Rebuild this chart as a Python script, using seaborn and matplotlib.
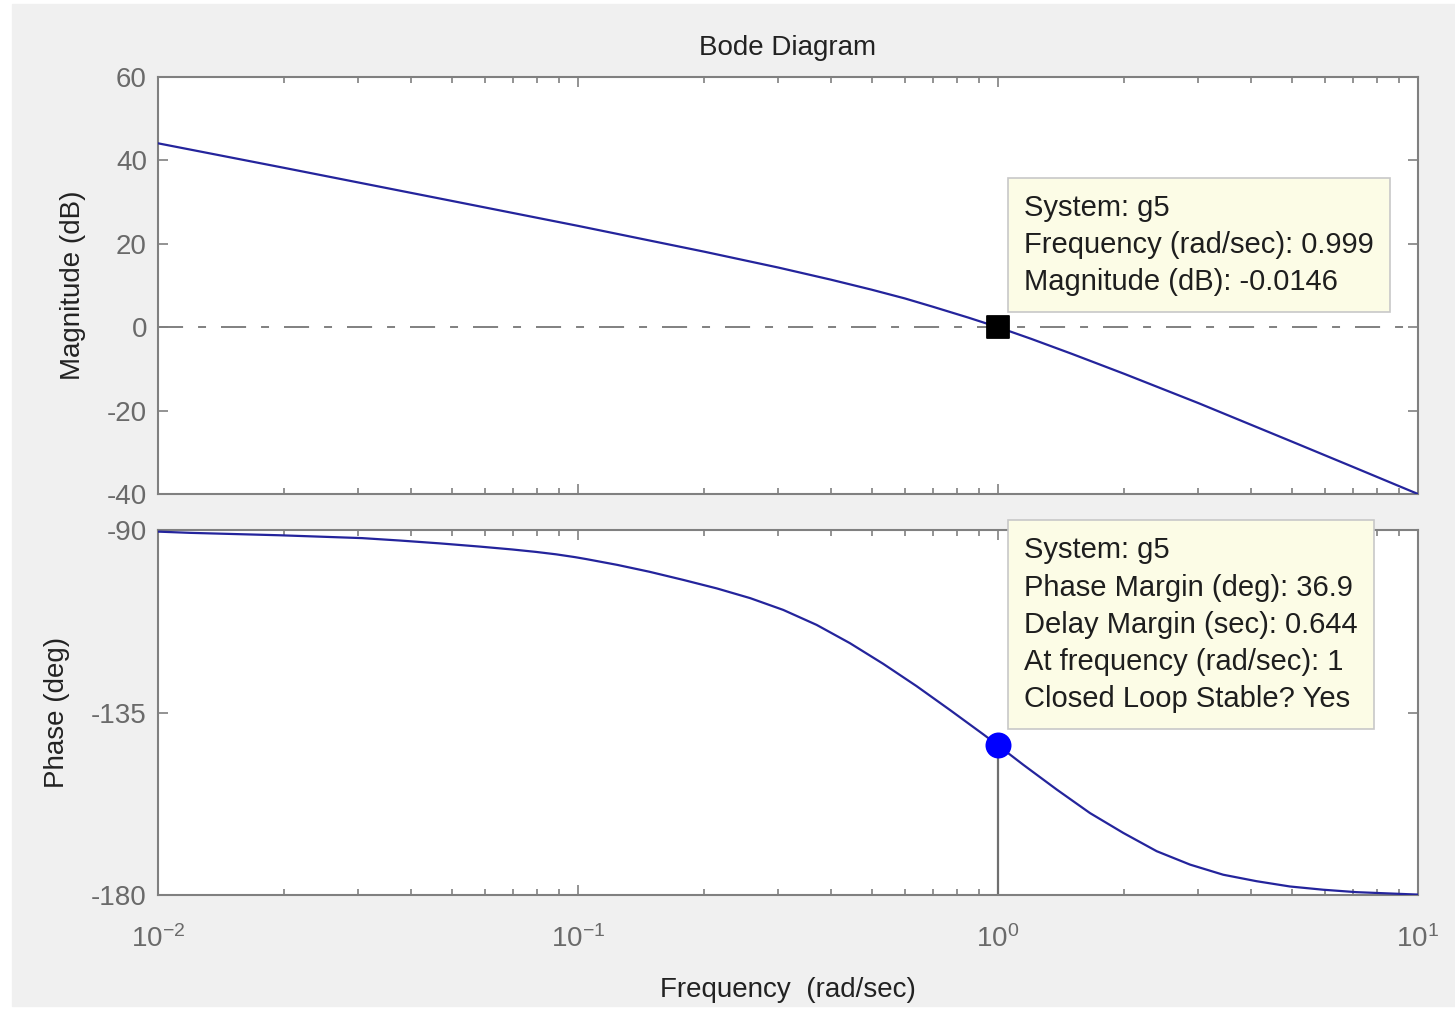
import matplotlib
matplotlib.use("Agg")
import matplotlib.pyplot as plt
from matplotlib.patches import Rectangle
from matplotlib.ticker import FixedLocator, LogLocator, NullFormatter, FuncFormatter
import seaborn as sns
import numpy as np

# values
mag_freq = [0.01, 0.02, 0.05, 0.1, 0.2, 0.3, 0.4, 0.5, 0.6, 0.7, 0.85, 1.0, 1.2, 1.5, 2.0, 3.0, 5.0, 7.0, 10.0]
mag_db = [44.1, 38.2, 30.3, 24.3, 18.1, 14.3, 11.4, 9.0, 6.9, 4.9, 2.3, 0.0, -2.8, -6.4, -11.2, -18.2, -27.4, -33.5, -40.0]

phase_freq = [0.01, 0.0119, 0.0195, 0.0306, 0.0377, 0.0469, 0.0585, 0.0697, 0.0794, 0.0887, 0.0985,
              0.105, 0.124, 0.148, 0.178, 0.214, 0.257, 0.308, 0.370, 0.444, 0.533, 0.640, 0.769,
              0.923, 1.0, 1.149, 1.380, 1.656, 1.988, 2.387, 2.865, 3.437, 4.128, 4.955, 5.946, 7.14, 10.0]
phase_deg = [-90.4, -90.7, -91.3, -92.0, -92.6, -93.3, -94.1, -94.8, -95.4, -96.0, -96.7,
             -97.2, -98.6, -100.3, -102.3, -104.4, -106.8, -109.7, -113.4, -117.9, -123.0, -128.5, -134.4,
             -140.4, -143.1, -147.9, -154.0, -159.8, -164.7, -169.2, -172.5, -175.0, -176.6, -177.9, -178.7, -179.3, -179.9]

mag_ticks = [60, 40, 20, 0, -20, -40]
phase_ticks = [-90, -135, -180]
freq_ticks = [0.01, 0.1, 1, 10]

# data tips
tip_freq = [0.999]
tip_mag = [-0.0146]
pm_freq = [1.0]
pm_phase = [-143.1]
phase_margin = 36.9
delay_margin = 0.644

LINE = "#24249c"
GRAY = "#808080"
TICKTXT = "#6a6a6a"

sns.set_theme(style="ticks")
plt.rcParams["font.family"] = ["Liberation Sans", "DejaVu Sans"]
plt.rcParams["mathtext.default"] = "regular"
plt.rcParams["axes.unicode_minus"] = False

fig = plt.figure(figsize=(14.55, 10.09), dpi=100)
fig.patch.set_facecolor("white")
fig.patches.append(Rectangle((12 / 1455, 3 / 1009), 1 - 12 / 1455, 1 - 7 / 1009,
                             transform=fig.transFigure, color="#f0f0f0", zorder=-5))

ax1 = fig.add_axes([158 / 1455, 1 - 494 / 1009, 1260 / 1455, 417 / 1009])
ax2 = fig.add_axes([158 / 1455, 1 - 895 / 1009, 1260 / 1455, 365 / 1009])

for ax in (ax1, ax2):
    ax.set_facecolor("white")
    ax.set_xscale("log")
    ax.set_xlim(0.01, 10)
    for sp in ax.spines.values():
        sp.set_color(GRAY)
        sp.set_linewidth(1.5)
        sp.set_visible(True)
    ax.xaxis.set_major_locator(FixedLocator(freq_ticks))
    ax.xaxis.set_minor_locator(LogLocator(base=10, subs=np.arange(2, 10)))
    ax.xaxis.set_minor_formatter(NullFormatter())
    ax.tick_params(which="both", direction="in", top=True, right=True, bottom=True, left=True,
                   color=GRAY, width=1.2, labelcolor=TICKTXT, labelsize=20, pad=8)
    ax.tick_params(which="major", length=7)
    ax.tick_params(which="minor", length=4.5)
    ax.grid(False)

dashdot = dict(color=GRAY, lw=1.4, dashes=(12.9, 7.7, 4.1, 7.7), zorder=1)
tipbox = dict(boxstyle="square,pad=0.55", fc="#fcfce6", ec="#c8c8c8", lw=1.2)

# magnitude
ax1.axhline(0, **dashdot)
sns.lineplot(x=mag_freq, y=mag_db, ax=ax1, color=LINE, lw=1.6, estimator=None, sort=False, zorder=3)
sns.scatterplot(x=tip_freq, y=tip_mag, ax=ax1, marker="s", s=260, color="black",
                edgecolor="black", zorder=5)
ax1.set_ylim(-40, 60)
ax1.yaxis.set_major_locator(FixedLocator(mag_ticks))
ax1.set_xticklabels([])
ax1.set_ylabel("Magnitude (dB)", fontsize=20, color="#222222", labelpad=15)
ax1.set_title("Bode Diagram", fontsize=20, color="#222222", pad=16)

tip1 = "System: g5\nFrequency (rad/sec): {}\nMagnitude (dB): {}".format(tip_freq[0], tip_mag[0])
ax1.annotate(tip1, xy=(tip_freq[0], tip_mag[0]), xytext=(26, 31), textcoords="offset pixels",
             ha="left", va="bottom", fontsize=21, linespacing=1.42, color="#1e1e1e", zorder=10,
             bbox=tipbox)

# phase
ax2.axhline(-180, **dashdot)
ax2.vlines(pm_freq, -180, pm_phase, color="#707070", lw=1.6, zorder=2)
sns.lineplot(x=phase_freq, y=phase_deg, ax=ax2, color=LINE, lw=1.6, estimator=None, sort=False, zorder=3)
sns.scatterplot(x=pm_freq, y=pm_phase, ax=ax2, marker="o", s=300, color="#0000ff",
                edgecolor="#0000ff", zorder=5)
ax2.set_ylim(-180, -90)
ax2.yaxis.set_major_locator(FixedLocator(phase_ticks))
ax2.xaxis.set_major_formatter(FuncFormatter(lambda v, p: r"$10^{%d}$" % round(np.log10(v))))
ax2.tick_params(axis="x", which="major", pad=22)
ax2.set_ylabel("Phase (deg)", fontsize=20, color="#222222", labelpad=15)
ax2.set_xlabel("Frequency  (rad/sec)", fontsize=20, color="#222222", labelpad=17)

tip2 = ("System: g5\nPhase Margin (deg): {}\nDelay Margin (sec): {}\n"
        "At frequency (rad/sec): {:g}\nClosed Loop Stable? Yes").format(phase_margin, delay_margin, pm_freq[0])
t2 = ax2.annotate(tip2, xy=(pm_freq[0], pm_phase[0]), xytext=(26, 32), textcoords="offset pixels",
                  ha="left", va="bottom", fontsize=21, linespacing=1.42, color="#1e1e1e", zorder=10,
                  bbox=tipbox)
t2.set_clip_on(False)

fig.savefig("out.png", dpi=100, facecolor=fig.get_facecolor())
